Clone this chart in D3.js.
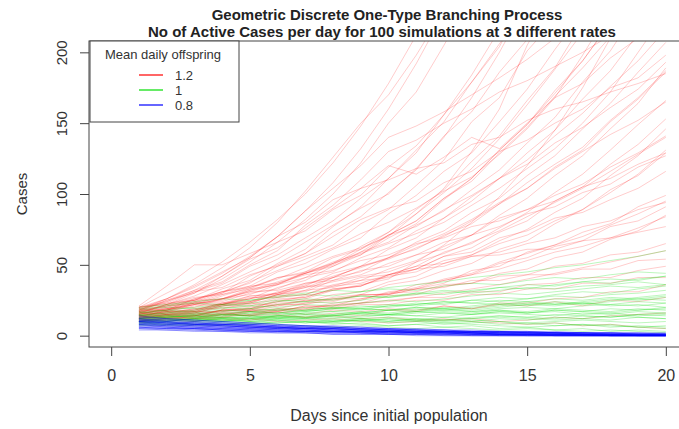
<!DOCTYPE html>
<html lang="en">
<head>
<meta charset="utf-8">
<title>Geometric Discrete One-Type Branching Process</title>
<script src="https://cdn.jsdelivr.net/npm/d3@7"></script>
<style>
  body { margin: 0; background: #fff; }
  svg { font-family: "Liberation Sans", Arial, sans-serif; }
</style>
</head>
<body>
<script>
var w = 679, h = 429;

// days 1..20
var days = d3.range(1, 21);

// mean daily offspring 1.2 (red)
var red = [
  [15,19,22,26,31,37,44,50,61,73,86,101,118,139,163,188,214,248,287,329],
  [12,15,16,21,24,29,34,41,49,54,62,70,81,93,108,121,133,152,168,187],
  [18,21,26,31,37,49,58,73,84,101,117,141,158,186,209,243,268,302,338,381],
  [10,12,12,13,15,17,21,21,26,29,33,37,46,49,59,64,73,79,91,99],
  [20,24,31,34,43,49,56,64,79,89,106,124,151,168,201,223,262,288,331,368],
  [14,14,17,17,18,19,23,24,29,29,36,39,43,47,53,59,63,69,76,84],
  [16,21,25,31,35,45,51,61,69,86,99,116,129,151,174,202,228,262,298,342],
  [11,13,13,16,17,21,23,27,29,36,39,46,51,61,67,79,89,101,114,131],
  [19,23,31,37,49,57,69,81,97,111,131,151,179,204,241,279,321,359,401,449],
  [13,13,16,14,18,17,21,20,23,24,27,27,31,31,36,37,41,41,46,49],
  [17,21,23,29,33,41,44,51,57,69,79,96,111,131,149,173,194,221,244,271],
  [12,14,14,18,19,25,27,33,35,43,49,59,65,76,87,101,114,131,149,166],
  [15,17,17,22,23,29,31,39,43,51,57,66,71,83,89,99,107,119,129,141],
  [9,11,10,13,11,14,13,16,14,18,17,21,19,23,23,26,27,31,31,36],
  [21,35,50,50,58,66,74,89,99,119,134,156,179,206,234,271,309,351,399,451],
  [16,18,18,23,24,28,29,35,37,43,47,56,59,69,74,83,87,96,104,116],
  [14,17,18,23,26,34,39,49,57,71,81,97,109,129,147,169,189,211,229,256],
  [18,19,23,23,28,29,35,35,41,43,49,51,56,57,61,61,67,69,73,77],
  [13,16,17,21,23,29,32,41,45,55,61,71,79,93,104,119,131,151,167,186],
  [10,13,12,16,15,19,19,23,25,31,33,39,43,51,55,63,67,77,81,91],
  [17,22,25,33,39,51,61,77,91,111,129,156,184,216,249,291,329,376,419,471],
  [15,16,19,19,23,21,25,25,29,29,33,34,39,39,43,43,47,47,53,54],
  [12,15,16,21,22,27,29,36,39,47,53,63,71,85,97,113,127,146,164,189],
  [20,23,25,31,34,41,45,55,61,71,77,89,99,111,121,136,147,161,174,193],
  [11,11,14,13,17,16,19,19,22,22,25,25,29,29,33,33,37,37,41,41],
  [16,18,23,25,32,36,45,51,63,73,89,103,123,141,166,189,221,254,291,329],
  [14,16,16,20,21,26,27,33,35,42,45,53,57,65,71,81,89,103,113,129],
  [19,20,25,26,31,32,37,39,46,49,57,61,71,77,86,91,101,107,119,127],
  [13,15,14,18,18,23,24,29,31,38,42,51,57,67,75,87,97,113,127,146],
  [17,18,23,24,30,33,41,45,55,62,74,83,98,111,129,145,167,187,213,239],
  [12,14,12,15,14,17,15,18,17,19,18,21,19,22,21,24,21,25,24,27],
  [15,19,20,26,29,36,41,51,59,71,81,97,111,131,149,171,194,221,249,281],
  [18,18,22,22,27,27,32,34,39,41,47,49,56,59,65,69,77,81,89,94],
  [10,12,11,15,14,18,18,22,23,28,29,35,37,44,47,55,59,68,74,85],
  [16,17,21,22,28,30,37,41,49,55,66,74,87,97,113,127,146,164,186,207],
  [14,17,17,22,24,31,35,44,49,61,69,83,95,111,124,141,157,176,194,216],
  [20,22,27,29,35,37,43,46,53,57,65,69,77,81,89,95,105,111,121,129],
  [11,14,14,18,19,24,26,32,35,43,47,56,62,73,81,95,105,121,135,153],
  [17,19,24,26,33,36,44,49,59,66,78,88,103,117,136,154,179,201,231,259],
  [13,15,15,18,18,22,22,26,26,30,31,36,37,42,43,49,51,57,59,65],
  [20,30,40,52,66,82,100,122,148,178,212,250,295,340,390,440,500,560,620,690],
  [18,26,34,44,56,70,88,108,132,160,192,228,270,315,365,415,470,530,590,650],
  [14,12,13,11,12,10,11,12,10,9,10,11,12,10,11,13,12,14,15,16],
  [16,15,17,16,14,15,13,14,12,13,11,12,10,9,8,9,7,8,6,5],
  [16,22,30,40,52,66,82,100,122,150,172,205,240,280,320,360,400,450,500,550],
  [18,24,32,38,50,60,78,92,110,130,138,150,160,172,180,190,200,212,220,232],
  [12,14,15,18,20,24,28,32,36,40,52,64,80,98,120,145,175,210,250,300],
  [15,18,26,30,42,50,58,70,82,90,95,108,116,130,138,150,160,175,182,198],
  [20,26,35,45,55,70,80,96,104,110,118,122,135,140,152,160,165,172,178,185],
  [14,17,22,28,34,40,48,56,62,70,86,104,130,160,205,240,280,320,360,400],
  [11,12,14,17,19,22,25,26,28,30,34,40,44,52,58,64,70,78,86,95],
  [19,26,36,48,62,80,102,126,150,170,198,230,270,310,350,400,450,500,550,600],
  [13,15,18,22,26,30,36,42,48,55,64,72,82,94,104,118,130,142,152,165],
  [17,25,30,42,54,62,76,90,104,120,114,126,140,132,150,168,178,196,210,230],
  [15,20,24,30,38,46,54,62,72,80,90,102,112,128,146,168,198,230,260,300],
  [16,22,28,36,45,54,66,78,90,100,118,140,168,200,236,270,310,350,400,450],
  [14,16,19,22,26,30,34,38,42,45,52,58,66,74,84,94,104,116,128,140],
  [13,18,22,26,32,38,44,52,58,65,72,80,92,104,118,132,150,172,200,228],
  [18,25,32,42,55,70,88,104,120,140,148,158,170,182,195,210,230,250,270,290],
  [12,13,14,15,17,18,20,21,23,25,27,30,33,36,40,44,48,52,56,60]
];

// mean daily offspring 1 (green)
var green = [
  [12,13,15,14,16,18,17,19,20,22,21,23,25,24,26,28,27,29,30,32],
  [10,9,10,11,10,12,11,10,12,13,12,11,13,14,13,15,14,13,15,16],
  [15,16,18,20,19,22,24,23,25,28,30,29,32,34,33,36,38,37,40,42],
  [8,9,8,7,8,9,10,9,8,7,8,9,8,7,6,7,8,7,6,5],
  [14,15,14,16,17,16,18,20,19,21,22,24,23,22,24,26,25,27,26,28],
  [11,12,11,10,11,12,14,13,12,11,10,11,12,13,12,11,12,14,13,12],
  [18,20,19,21,23,25,24,26,28,27,29,31,30,32,34,33,35,36,38,36],
  [9,10,12,11,13,14,13,15,16,15,17,18,17,19,20,19,21,22,21,23],
  [13,12,11,12,10,9,10,8,9,7,8,6,7,5,6,4,5,3,4,3],
  [16,18,17,19,21,20,22,21,23,25,24,26,28,30,29,31,33,35,34,36],
  [10,11,10,12,11,13,12,14,13,15,14,16,15,17,16,18,17,19,18,20],
  [12,13,14,13,15,14,16,17,16,18,19,18,20,22,21,23,22,24,26,25],
  [7,8,7,8,9,8,7,6,7,6,5,6,5,4,5,4,3,4,3,2],
  [17,18,20,22,21,24,26,25,28,27,30,32,31,34,36,35,38,40,39,42],
  [11,10,12,11,10,11,9,10,11,12,11,10,11,10,9,10,11,10,9,10],
  [14,16,15,17,19,18,20,19,21,20,22,24,23,25,24,22,23,21,22,20],
  [9,10,11,10,12,13,12,14,15,14,16,17,16,18,17,19,18,17,19,18],
  [19,21,23,22,25,27,29,28,31,33,32,35,37,36,39,41,40,43,45,44],
  [12,11,12,13,12,14,13,12,14,15,14,13,15,16,15,14,16,15,17,16],
  [10,12,11,13,12,14,16,15,17,16,18,20,19,21,23,22,24,26,25,27],
  [15,14,13,15,14,12,13,11,12,10,11,9,10,8,9,7,8,6,7,6],
  [13,14,16,15,17,16,18,17,19,18,20,19,21,23,22,24,23,25,27,29],
  [8,7,8,9,8,10,9,11,10,12,11,13,12,14,13,12,14,13,15,14],
  [16,17,16,18,17,19,18,20,19,18,20,19,17,18,16,17,15,16,14,15],
  [11,13,12,14,16,15,17,19,18,21,23,22,25,27,26,29,31,30,33,35],
  [14,13,14,12,13,11,12,10,11,9,10,8,9,10,8,9,7,8,6,7],
  [20,22,24,26,25,28,30,32,31,34,36,38,41,43,45,48,50,53,56,60],
  [10,11,13,12,14,13,15,14,16,18,17,19,18,20,22,21,23,22,24,23],
  [12,14,13,15,14,16,15,14,16,15,17,16,15,17,16,18,17,16,18,19],
  [9,8,9,10,9,11,10,9,11,10,12,11,10,12,11,13,12,11,13,12]
];

// mean daily offspring 0.8 (blue)
var blue = [
  [10,9,8,7,6,5,5,4,3,3,2,2,2,1,1,1,1,0,0,0],
  [8,7,6,6,5,4,4,3,3,2,2,2,1,1,1,1,0,0,0,0],
  [12,11,10,9,8,7,6,6,5,4,4,3,3,2,2,2,1,1,1,1],
  [6,5,5,4,3,3,2,2,2,1,1,1,0,0,0,0,0,0,0,0],
  [9,8,8,7,6,6,5,4,4,3,3,3,2,2,2,2,1,1,1,1],
  [11,10,8,8,7,6,5,5,4,3,3,2,2,2,1,1,1,1,0,0],
  [5,4,4,3,3,2,2,1,1,1,0,0,0,0,0,0,0,0,0,0],
  [7,7,6,5,5,4,4,3,3,3,2,2,2,1,1,1,1,1,0,0],
  [10,8,7,7,6,5,4,4,3,3,2,2,1,1,1,0,0,0,0,0],
  [13,12,11,10,9,8,7,7,6,5,5,4,4,3,3,3,2,2,2,2],
  [4,4,3,3,2,2,2,1,1,1,1,0,0,0,0,0,0,0,0,0],
  [9,9,8,7,6,6,5,5,4,4,3,3,3,2,2,2,2,1,1,1],
  [8,6,6,5,4,4,3,3,2,2,2,1,1,1,0,0,0,0,0,0],
  [11,11,10,9,8,7,7,6,5,5,4,4,3,3,3,2,2,2,2,1],
  [6,6,5,5,4,4,3,3,3,2,2,2,2,1,1,1,1,1,1,1],
  [12,10,9,8,7,6,6,5,4,4,3,3,2,2,2,2,1,1,1,1],
  [7,6,5,4,4,3,3,2,2,1,1,1,1,0,0,0,0,0,0,0],
  [10,10,9,8,8,7,6,6,5,4,4,3,3,3,2,2,2,1,1,1],
  [5,5,4,4,3,3,3,2,2,2,1,1,1,1,1,0,0,0,0,0],
  [9,7,7,6,5,5,4,3,3,3,2,2,2,1,1,1,1,0,0,0],
  [14,12,11,10,9,8,7,6,6,5,4,4,3,3,3,2,2,2,1,1],
  [8,8,7,6,6,5,5,4,4,3,3,3,2,2,2,1,1,1,1,1],
  [11,9,8,8,7,6,5,5,4,4,3,3,2,2,2,1,1,1,1,0],
  [6,5,5,4,4,3,3,3,2,2,2,2,1,1,1,1,1,0,0,0],
  [10,9,9,8,7,6,6,5,5,4,4,3,3,3,2,2,2,2,1,1]
];

var xTicks = [0, 5, 10, 15, 20];
var yTicks = [0, 50, 100, 150, 200];
var rates = ["1.2", "1", "0.8"];
var rateColors = ["#ff0000", "#00dd00", "#0000ff"];

// R style: xlim 0..20, ylim 0..200 with 4% extension
var padL = 89, padR = 688, padT = 41, padB = 347;

var x = d3.scaleLinear().domain([-0.8, 20.8]).range([padL, padR]);
var y = d3.scaleLinear().domain([-8, 208]).range([padB, padT]);

var svg = d3.select("body").append("svg")
    .attr("width", w)
    .attr("height", h);

svg.append("clipPath").attr("id", "plotclip")
  .append("rect")
    .attr("x", padL).attr("y", padT)
    .attr("width", padR - padL).attr("height", padB - padT);

var line = d3.line()
    .x(function(d, i) { return x(days[i]); })
    .y(function(d) { return y(d); });

var plot = svg.append("g").attr("clip-path", "url(#plotclip)");

function drawSet(data, color, op) {
  plot.append("g")
    .selectAll("path")
    .data(data)
    .enter()
    .append("path")
      .attr("d", line)
      .attr("fill", "none")
      .attr("stroke", color)
      .attr("stroke-opacity", op)
      .attr("stroke-width", 1);
}

drawSet(red, "#ff0000", 0.2);
drawSet(green, "#00dd00", 0.26);
drawSet(blue, "#0000ff", 0.35);

// plot box
svg.append("rect")
    .attr("x", padL).attr("y", padT)
    .attr("width", padR - padL).attr("height", padB - padT)
    .attr("fill", "none")
    .attr("stroke", "#444")
    .attr("stroke-width", 1);

// x axis
var xAxis = d3.axisBottom(x).tickValues(xTicks).tickSize(9).tickPadding(14).tickSizeOuter(0);
var gx = svg.append("g").attr("transform", "translate(0," + padB + ")").call(xAxis);
gx.select(".domain").remove();
gx.selectAll("line").attr("stroke", "#444");
gx.selectAll("text")
    .attr("font-size", "16px")
    .attr("fill", "#333")
    .attr("font-family", "Liberation Sans, Arial, sans-serif");

// y axis
var yAxis = d3.axisLeft(y).tickValues(yTicks).tickSize(9).tickSizeOuter(0);
var gy = svg.append("g").attr("transform", "translate(" + padL + ",0)").call(yAxis);
gy.select(".domain").remove();
gy.selectAll("line").attr("stroke", "#444");
gy.selectAll("text")
    .attr("x", 0).attr("dy", null)
    .attr("text-anchor", "middle")
    .attr("transform", "translate(-22,0) rotate(-90)")
    .attr("font-size", "15px")
    .attr("fill", "#333")
    .attr("font-family", "Liberation Sans, Arial, sans-serif");

// titles
svg.append("text")
    .attr("x", 387).attr("y", 20)
    .attr("text-anchor", "middle")
    .attr("font-weight", "bold")
    .attr("font-size", "15px")
    .attr("fill", "#222")
    .text("Geometric Discrete One-Type Branching Process");
svg.append("text")
    .attr("x", 382).attr("y", 36.5)
    .attr("text-anchor", "middle")
    .attr("font-weight", "bold")
    .attr("font-size", "15px")
    .attr("fill", "#222")
    .text("No of Active Cases per day for 100 simulations at 3 different rates");

svg.append("text")
    .attr("x", 389).attr("y", 421)
    .attr("text-anchor", "middle")
    .attr("font-size", "16px")
    .attr("fill", "#333")
    .text("Days since initial population");

svg.append("text")
    .attr("transform", "translate(27,194) rotate(-90)")
    .attr("text-anchor", "middle")
    .attr("font-size", "15px")
    .attr("fill", "#333")
    .text("Cases");

// legend
var lg = svg.append("g");
lg.append("rect")
    .attr("x", 90).attr("y", 41)
    .attr("width", 149).attr("height", 81)
    .attr("fill", "#fff")
    .attr("stroke", "#444");
lg.append("text")
    .attr("x", 163).attr("y", 59)
    .attr("text-anchor", "middle")
    .attr("font-size", "13px")
    .attr("fill", "#333")
    .text("Mean daily offspring");
rates.forEach(function(r, i) {
  var ly = 75 + i * 15;
  lg.append("line")
      .attr("x1", 139).attr("x2", 163)
      .attr("y1", ly).attr("y2", ly)
      .attr("stroke", rateColors[i])
      .attr("stroke-opacity", 0.6)
      .attr("stroke-width", 2);
  lg.append("text")
      .attr("x", 175).attr("y", ly + 5)
      .attr("font-size", "13px")
      .attr("fill", "#333")
      .text(r);
});
</script>
</body>
</html>
